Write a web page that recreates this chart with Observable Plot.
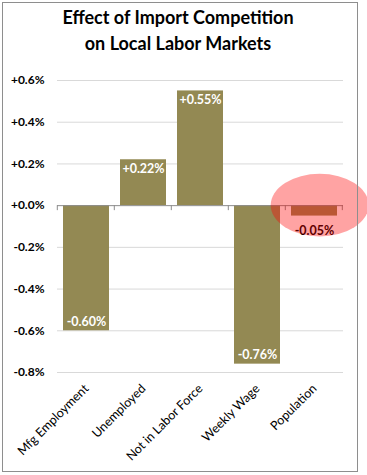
<!DOCTYPE html>
<html><head><meta charset="utf-8">
<script src="https://cdn.jsdelivr.net/npm/d3@7"></script>
<script src="https://cdn.jsdelivr.net/npm/@observablehq/plot@0.6"></script>
<style>
body{margin:0;font-family:Lato,sans-serif;background:#fff;}
#wrap{position:relative;width:367px;height:475px;overflow:hidden;}
#frame{position:absolute;left:2px;top:2px;width:356px;height:470px;border:1.5px solid #8e8e8e;box-sizing:border-box;pointer-events:none;}
#title{height:62px;width:356px;text-align:center;font-weight:bold;font-size:18px;line-height:26px;padding-top:4px;box-sizing:border-box;color:#000;}
#chart svg{overflow:visible;display:block;}
</style></head><body>
<div id="wrap"><div id="title">Effect of Import Competition<br>on Local Labor Markets</div><div id="chart"></div><div id="frame"></div></div>
<script>
const categories = ["Mfg Employment", "Unemployed", "Not in Labor Force", "Weekly Wage", "Population"];
const values = [-0.60, 0.22, 0.55, -0.76, -0.05];
const valueLabels = ["-0.60%", "+0.22%", "+0.55%", "-0.76%", "-0.05%"];
const yTicks = [-0.8, -0.6, -0.4, -0.2, 0, 0.2, 0.4, 0.6];
const highlighted = "Population";

const data = categories.map((c, i) => ({category: c, value: values[i], label: valueLabels[i]}));
const insidePos = data.filter(d => d.value >= 0.1);
const insideNeg = data.filter(d => d.value <= -0.1);
const outside = data.filter(d => Math.abs(d.value) < 0.1);
const fmt = d => (d >= 0 ? "+" : "-") + Math.abs(d).toFixed(1) + "%";

const plot = Plot.plot({
  width: 367,
  height: 413,
  marginLeft: 57,
  marginRight: 24,
  marginTop: 18,
  marginBottom: 103,
  style: {fontFamily: "Lato, sans-serif", background: "transparent", color: "#000"},
  x: {domain: categories, paddingInner: 0.2, paddingOuter: 0.1, label: null},
  y: {domain: [-0.8, 0.6], label: null},
  marks: [
    Plot.gridY(yTicks.filter(d => d !== 0), {stroke: "#d9d9d9", strokeOpacity: 1}),
    Plot.axisY(yTicks, {tickSize: 0, tickPadding: 13, tickFormat: fmt, fontSize: 12, fontWeight: "bold", fill: "#000"}),
    Plot.axisX({tickSize: 0, tickPadding: 14, tickRotate: -45, fontSize: 12.5, fill: "#000"}),
    Plot.barY(data, {x: "category", y: "value", fill: "#938953"}),
    Plot.ruleY([0], {stroke: "#8c8c8c", strokeWidth: 1}),
    Plot.text(insidePos, {x: "category", y: "value", text: "label", fill: "#fff", fontSize: 12.5, fontWeight: "bold", dy: 9}),
    Plot.text(insideNeg, {x: "category", y: "value", text: "label", fill: "#fff", fontSize: 12.5, fontWeight: "bold", dy: -9}),
    Plot.text(outside, {x: "category", y: "value", text: "label", fill: "#000", fontSize: 12.5, fontWeight: "bold", dy: 15})
  ]
});
document.getElementById("chart").append(plot);

const xs = plot.scale("x"), ys = plot.scale("y");
const svg = d3.select(plot);
const g = svg.append("g");
const y0 = ys.apply(0);
const bounds = categories.map(c => xs.apply(c) - xs.step * 0.1);
bounds.push(bounds[bounds.length - 1] + xs.step);
g.selectAll("line").data(bounds).join("line")
  .attr("x1", d => d).attr("x2", d => d)
  .attr("y1", y0).attr("y2", y0 + 5)
  .attr("stroke", "#8c8c8c");
const cx = xs.apply(highlighted) + xs.bandwidth / 2 + xs.step * 0.1;
svg.append("ellipse")
  .attr("cx", cx).attr("cy", y0)
  .attr("rx", xs.step * 0.86).attr("ry", ys.apply(0) - ys.apply(0.15))
  .attr("fill", "#ff0000").attr("fill-opacity", 0.36);
</script>
</body></html>
